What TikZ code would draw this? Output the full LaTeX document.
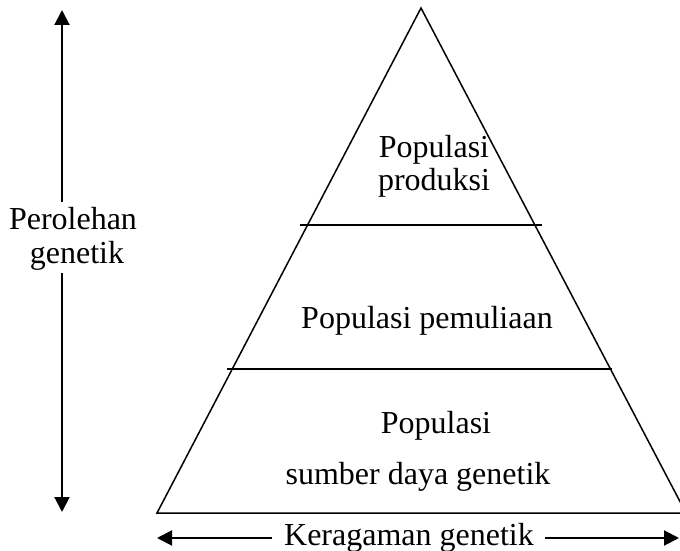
\documentclass[tikz,border=0pt]{standalone}
\usepackage{fontspec}
\setmainfont{Liberation Serif}
\usetikzlibrary{arrows.meta}
\begin{document}
\begin{tikzpicture}[x=1pt,y=-1pt,
  lbl/.style={font=\fontsize{32}{38}\selectfont, inner sep=0pt, anchor=base},
  edge/.style={line width=1.5pt},
  arr/.style={line width=2pt, -{Triangle[width=15pt,length=15pt]}}]
\useasboundingbox (0,0) rectangle (680,551);
\clip (0,0) rectangle (680,551);
% pyramid
\coordinate (apex) at (421,8);
\coordinate (bl) at (157,513);
\coordinate (br) at (686,513);
\draw[edge, line join=miter] (bl) -- (apex) -- (br) -- cycle;
\draw[edge] (300,225) -- (542,225);
\draw[edge] (227,369) -- (612,369);
% texts
\node[lbl] (t1) at (434,157) {Populasi};
\node[lbl] (t2) at (434,190) {produksi};
\node[lbl] (t3) at (427,328) {Populasi pemuliaan};
\node[lbl] (t4) at (436,433) {Populasi};
\node[lbl] (t5) at (418,484) {sumber daya genetik};
\node[lbl] (t6) at (409,545) {Keragaman genetik};
\node[lbl] (p1) at (73,229) {Perolehan};
\node[lbl] (p2) at (77,263) {genetik};
% vertical arrow
\coordinate (vtop) at (62,10);
\coordinate (vbot) at (62,512);
\coordinate (va) at (62,202);
\coordinate (vb) at (62,273);
\draw[arr] (va) -- (vtop);
\draw[arr] (vb) -- (vbot);
% horizontal arrow
\coordinate (hl) at (157,538);
\coordinate (hr) at (679,538);
\coordinate (ha) at (272,538);
\coordinate (hb) at (545,538);
\draw[arr] (ha) -- (hl);
\draw[arr] (hb) -- (hr);
\end{tikzpicture}
\end{document}
